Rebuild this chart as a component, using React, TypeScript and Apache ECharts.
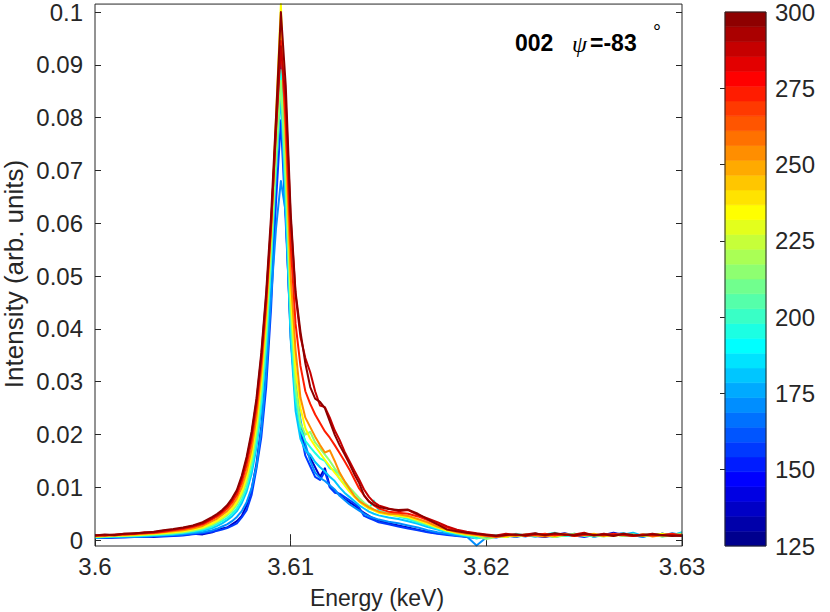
import React, { useEffect, useRef } from "react";
import * as echarts from "echarts";

// Energy grid (keV)
const ENERGY = [
  3.6, 3.6005, 3.601, 3.6015, 3.602, 3.6025, 3.603, 3.6035, 3.604, 3.6045, 3.605, 3.6055,
  3.606, 3.60625, 3.6065, 3.60675, 3.607, 3.60725, 3.6075, 3.60775, 3.608, 3.60825,
  3.6085, 3.60875, 3.609, 3.60925, 3.6095, 3.60975, 3.61, 3.61025, 3.6105, 3.61075,
  3.611, 3.61125, 3.6115, 3.61175, 3.612, 3.61225, 3.6125, 3.61275, 3.613, 3.61325,
  3.6135, 3.61375, 3.614, 3.61425, 3.6145,
  3.615, 3.6155, 3.616, 3.6165, 3.617, 3.6175, 3.618, 3.6185, 3.619, 3.6195,
  3.62, 3.6205, 3.621, 3.6215, 3.622, 3.6225, 3.623, 3.6235, 3.624, 3.6245,
  3.625, 3.6255, 3.626, 3.6265, 3.627, 3.6275, 3.628, 3.6285, 3.629, 3.6295, 3.63,
];

// Temperatures of the curves (colour axis)
const TEMPERATURES = [137, 157, 172, 182, 197, 215, 235, 254, 274, 288, 299];

const S137 = [
  0.0005, 0.0004, 0.0005, 0.0006, 0.0006, 0.0007, 0.0006, 0.0008, 0.0009, 0.001, 0.0012, 0.0011,
  0.0015, 0.0019, 0.0022, 0.0024, 0.003, 0.0036, 0.0046, 0.0066, 0.0095, 0.0145,
  0.0215, 0.032, 0.048, 0.07, 0.0928, 0.062, 0.0385, 0.027, 0.0212, 0.0172,
  0.0156, 0.0138, 0.012, 0.0136, 0.0102, 0.0094, 0.0086, 0.0078, 0.0072, 0.0066,
  0.0058, 0.0052, 0.0046, 0.0041, 0.0037,
  0.0032, 0.0028, 0.0024, 0.002, 0.0016, 0.0013, 0.0011, 0.0009, 0.0007, 0.0005,
  0.0008, 0.0006, 0.001, 0.0007, 0.0011, 0.0008, 0.0006, 0.001, 0.0013, 0.0009,
  0.0011, 0.0007, 0.001, 0.0014, 0.001, 0.0008, 0.0011, 0.0009, 0.0012, 0.001, 0.0008,
];
const S157 = [
  0.0004, 0.0004, 0.0005, 0.0005, 0.0006, 0.0006, 0.0007, 0.0007, 0.0008, 0.0009, 0.0011, 0.0013,
  0.0016, 0.0018, 0.002, 0.0023, 0.0027, 0.0032, 0.0043, 0.0057, 0.0085, 0.0135,
  0.0195, 0.029, 0.044, 0.064, 0.0795, 0.06, 0.04, 0.0275, 0.0205, 0.016,
  0.014, 0.012, 0.0114, 0.013, 0.01, 0.009, 0.0088, 0.0082, 0.0076, 0.007,
  0.0062, 0.0046, 0.0042, 0.0038, 0.0034,
  0.003, 0.0026, 0.0022, 0.0019, 0.0015, 0.0012, 0.001, 0.0008, 0.0006, 0.0004,
  0.0007, 0.0005, 0.0009, 0.0006, 0.001, 0.0007, 0.0011, 0.0008, 0.0012, 0.0009,
  0.0006, 0.001, 0.0008, 0.0011, 0.0013, 0.0009, 0.0007, 0.001, 0.0012, 0.0008, 0.0011,
];
const S172 = [
  0.0004, 0.0005, 0.0006, 0.0006, 0.0007, 0.0007, 0.0008, 0.0009, 0.001, 0.0011, 0.0013, 0.0015,
  0.0019, 0.0022, 0.0026, 0.003, 0.0036, 0.0044, 0.0055, 0.0072, 0.0098, 0.014,
  0.021, 0.0315, 0.046, 0.059, 0.068, 0.062, 0.046, 0.031, 0.0228, 0.0182,
  0.015, 0.0128, 0.0118, 0.0112, 0.0104, 0.0096, 0.0084, 0.0076, 0.0068, 0.0062,
  0.0056, 0.005, 0.0045, 0.0042, 0.0039,
  0.0035, 0.0032, 0.0028, 0.0024, 0.0019, 0.0015, 0.0012, 0.0009, 0.0007, -0.001,
  0.0005, 0.0008, 0.0006, 0.001, 0.0007, 0.0012, 0.0009, 0.0006, 0.001, 0.0008,
  0.0011, 0.0007, 0.0009, 0.0012, 0.0008, 0.001, 0.0006, 0.0011, 0.0009, 0.0013, 0.001,
];
const S182 = [
  0.0005, 0.0006, 0.0006, 0.0007, 0.0007, 0.0008, 0.0009, 0.001, 0.0011, 0.0013, 0.0015, 0.0018,
  0.0023, 0.0027, 0.0032, 0.0038, 0.0045, 0.0055, 0.007, 0.0092, 0.0125, 0.0175,
  0.025, 0.036, 0.0515, 0.07, 0.0845, 0.062, 0.038, 0.0245, 0.0192, 0.017,
  0.0162, 0.0148, 0.0138, 0.013, 0.012, 0.0112, 0.01, 0.009, 0.0082, 0.0074,
  0.0066, 0.006, 0.0054, 0.005, 0.0047,
  0.0043, 0.004, 0.0036, 0.0031, 0.0025, 0.002, 0.0015, 0.0011, 0.0008, 0.0006,
  0.0009, 0.0007, 0.0011, 0.0008, 0.001, 0.0013, 0.0008, 0.0011, 0.0009, 0.0012,
  0.001, 0.0007, 0.0012, 0.0009, 0.0011, 0.0014, 0.0008, 0.001, 0.0012, 0.0009, 0.0015,
];
const S197 = [
  0.0006, 0.0006, 0.0007, 0.0008, 0.0008, 0.0009, 0.001, 0.0011, 0.0012, 0.0014, 0.0017, 0.002,
  0.0026, 0.0031, 0.0036, 0.0042, 0.005, 0.006, 0.0076, 0.01, 0.0135, 0.0186,
  0.0262, 0.0372, 0.053, 0.072, 0.089, 0.066, 0.041, 0.0268, 0.021, 0.0188,
  0.0176, 0.0165, 0.0155, 0.015, 0.0136, 0.0132, 0.0116, 0.0106, 0.0094, 0.0084,
  0.0076, 0.0068, 0.006, 0.0075, 0.0056,
  0.005, 0.0045, 0.004, 0.0034, 0.0028, 0.0022, 0.0016, 0.0012, 0.0009, 0.0003,
  0.0008, 0.001, 0.0006, 0.0012, 0.0009, 0.0007, 0.0011, 0.0014, 0.0008, 0.001,
  0.0012, 0.0007, 0.0011, 0.0009, 0.0013, 0.0008, 0.001, 0.0012, 0.0007, 0.0011, 0.0013,
];
const S215 = [
  0.0006, 0.0007, 0.0008, 0.0008, 0.0009, 0.001, 0.0011, 0.0012, 0.0013, 0.0015, 0.0018, 0.0022,
  0.0029, 0.0034, 0.004, 0.0047, 0.0055, 0.0067, 0.0084, 0.011, 0.0148, 0.0202,
  0.0282, 0.0395, 0.055, 0.072, 0.087, 0.068, 0.044, 0.029, 0.0222, 0.02,
  0.0205, 0.0185, 0.0174, 0.0162, 0.015, 0.0136, 0.0124, 0.0112, 0.01, 0.009,
  0.008, 0.0071, 0.0064, 0.0058, 0.0054,
  0.005, 0.0047, 0.0043, 0.0036, 0.003, 0.0024, 0.0018, 0.0013, 0.001, 0.0008,
  0.0002, 0.0006, 0.0009, 0.0007, 0.0011, 0.0008, 0.001, 0.0006, 0.0009, 0.0012,
  0.0008, 0.001, 0.0007, 0.0011, 0.0009, 0.0008, 0.0011, 0.001, 0.0007, 0.0009, 0.0012,
];
const S235 = [
  0.0007, 0.0008, 0.0009, 0.0009, 0.001, 0.0011, 0.0012, 0.0013, 0.0015, 0.0017, 0.002, 0.0024,
  0.0032, 0.0037, 0.0043, 0.005, 0.0059, 0.0072, 0.0091, 0.012, 0.016, 0.0218,
  0.0302, 0.042, 0.0585, 0.08, 0.1015, 0.075, 0.047, 0.032, 0.025, 0.0212,
  0.0192, 0.0178, 0.0165, 0.0152, 0.014, 0.0128, 0.0117, 0.0104, 0.0092, 0.0082,
  0.0073, 0.0066, 0.006, 0.0056, 0.0052,
  0.0048, 0.0046, 0.0044, 0.0038, 0.0031, 0.0024, 0.0018, 0.0014, 0.0011, 0.0009,
  0.0007, 0.0008, 0.0006, 0.001, 0.0008, 0.0012, 0.0009, 0.0007, 0.0011, 0.0009,
  0.001, 0.0012, 0.0008, 0.001, 0.0009, 0.0011, 0.0008, 0.001, 0.0012, 0.0009, 0.001,
];
const S254 = [
  0.0008, 0.0009, 0.001, 0.001, 0.0011, 0.0012, 0.0013, 0.0015, 0.0017, 0.0019, 0.0022, 0.0027,
  0.0036, 0.0041, 0.0048, 0.0055, 0.0065, 0.0079, 0.01, 0.013, 0.0172, 0.0232,
  0.0318, 0.0435, 0.059, 0.079, 0.097, 0.076, 0.05, 0.036, 0.027, 0.0232,
  0.0214, 0.0196, 0.018, 0.0166, 0.017, 0.015, 0.0128, 0.0112, 0.0098, 0.0084,
  0.0074, 0.0068, 0.0062, 0.0058, 0.0054,
  0.005, 0.0049, 0.0046, 0.004, 0.0034, 0.0026, 0.002, 0.0015, 0.0012, 0.001,
  0.0008, 0.0006, 0.001, 0.0008, 0.0011, 0.0009, 0.0007, 0.001, 0.0012, 0.0008,
  0.0011, 0.0009, 0.001, 0.0008, 0.0012, 0.0009, 0.0011, 0.0007, 0.001, 0.0009, 0.0011,
];
const S274 = [
  0.0008, 0.001, 0.0009, 0.0011, 0.0012, 0.0013, 0.0014, 0.0016, 0.0019, 0.0021, 0.0025, 0.003,
  0.004, 0.0045, 0.0052, 0.006, 0.0071, 0.0086, 0.011, 0.0143, 0.0188, 0.025,
  0.0335, 0.045, 0.0595, 0.078, 0.0945, 0.079, 0.056, 0.041, 0.033, 0.0282,
  0.0258, 0.0238, 0.0222, 0.0206, 0.0194, 0.018, 0.0165, 0.015, 0.0134, 0.0116,
  0.0098, 0.0085, 0.0074, 0.0066, 0.006,
  0.0054, 0.0052, 0.005, 0.0045, 0.0038, 0.003, 0.0024, 0.0018, 0.0014, 0.0011,
  0.0009, 0.0007, 0.0009, 0.0011, 0.0008, 0.001, 0.0012, 0.0009, 0.0011, 0.0008,
  0.001, 0.0011, 0.0009, 0.0012, 0.001, 0.0008, 0.0011, 0.0009, 0.001, 0.0012, 0.0009,
];
const S288 = [
  0.001, 0.0009, 0.0011, 0.0012, 0.0012, 0.0015, 0.0015, 0.0018, 0.002, 0.0023, 0.0027, 0.0032,
  0.0042, 0.0048, 0.0055, 0.0064, 0.0076, 0.0092, 0.0118, 0.0153, 0.02, 0.0262,
  0.0348, 0.0462, 0.06, 0.0775, 0.0935, 0.083, 0.061, 0.0465, 0.0385, 0.0345,
  0.0318, 0.0282, 0.0255, 0.0252, 0.0232, 0.0208, 0.019, 0.0168, 0.015, 0.0132,
  0.0115, 0.0096, 0.0082, 0.0072, 0.0066,
  0.006, 0.0055, 0.0057, 0.0048, 0.0041, 0.0034, 0.0026, 0.002, 0.0016, 0.0013,
  0.0011, 0.0009, 0.0012, 0.001, 0.0011, 0.0013, 0.0009, 0.0012, 0.001, 0.0011,
  0.0014, 0.0009, 0.0012, 0.001, 0.0011, 0.0008, 0.001, 0.0012, 0.0009, 0.001, 0.0008,
];
const S299 = [
  0.0009, 0.0011, 0.001, 0.0012, 0.0013, 0.0014, 0.0016, 0.0019, 0.0021, 0.0024, 0.0028, 0.0034,
  0.0044, 0.005, 0.0057, 0.0066, 0.0079, 0.0095, 0.0122, 0.0158, 0.0205, 0.0268,
  0.0355, 0.047, 0.0615, 0.08, 0.1, 0.086, 0.062, 0.047, 0.0395, 0.0335,
  0.029, 0.0268, 0.0262, 0.025, 0.0225, 0.02, 0.018, 0.0163, 0.0145, 0.0125,
  0.0108, 0.0085, 0.0073, 0.0067, 0.0063,
  0.0059, 0.0057, 0.0058, 0.005, 0.004, 0.003, 0.002, 0.0017, 0.0014, 0.0012,
  0.001, 0.0008, 0.001, 0.0011, 0.0009, 0.0012, 0.001, 0.0013, 0.0011, 0.0009,
  0.0012, 0.001, 0.0011, 0.0008, 0.0012, 0.001, 0.0009, 0.0011, 0.001, 0.0008, 0.0009,
];

const SERIES_VALUES = [S137, S157, S172, S182, S197, S215, S235, S254, S274, S288, S299];

const X_TICKS = [3.6, 3.61, 3.62, 3.63];
const Y_TICKS = [0, 0.01, 0.02, 0.03, 0.04, 0.05, 0.06, 0.07, 0.08, 0.09, 0.1];
const CB_TICKS = [125, 150, 175, 200, 225, 250, 275, 300];
const CB_MIN = 125;
const CB_MAX = 300;
const CB_LEVELS = 36;

const FONT = "'Liberation Sans', Arial, Helvetica, sans-serif";
const INK = "#262626";

// MATLAB-style jet colormap with m levels
function jet(m: number): number[][] {
  const n = Math.ceil(m / 4);
  const u: number[] = [];
  for (let i = 1; i <= n; i++) u.push(i / n);
  for (let i = 1; i <= n - 1; i++) u.push(1);
  for (let i = n; i >= 1; i--) u.push(i / n);
  const off = Math.ceil(n / 2) - (m % 4 === 1 ? 1 : 0);
  const g: number[] = [];
  for (let i = 1; i <= u.length; i++) g.push(off + i);
  const r = g.map((v) => v + n).filter((v) => v <= m);
  const b = g.map((v) => v - n).filter((v) => v >= 1);
  const gg = g.filter((v) => v <= m);
  const J = Array.from({ length: m }, () => [0, 0, 0]);
  r.forEach((row, i) => (J[row - 1][0] = u[i]));
  gg.forEach((row, i) => (J[row - 1][1] = u[i]));
  b.forEach((row, i) => (J[row - 1][2] = u[u.length - b.length + i]));
  return J;
}
const JET = jet(CB_LEVELS);
function levelColor(k: number): string {
  const c = JET[Math.max(0, Math.min(CB_LEVELS - 1, k))];
  return `rgb(${Math.round(c[0] * 255)},${Math.round(c[1] * 255)},${Math.round(c[2] * 255)})`;
}
function tempColor(t: number): string {
  return levelColor(Math.floor(((t - CB_MIN) / (CB_MAX - CB_MIN)) * CB_LEVELS));
}

export default function App() {
  const ref = useRef<HTMLDivElement>(null);
  useEffect(() => {
    document.body.style.margin = "0";
    if (!ref.current) return;
    const chart = echarts.init(ref.current, null, { renderer: "svg" });

    const step = (CB_MAX - CB_MIN) / CB_LEVELS;
    const bands = Array.from({ length: CB_LEVELS }, (_, k) => [0.5, CB_MIN + k * step, CB_MIN + (k + 1) * step, k]);

    const tickStyle = { show: true, inside: true, length: 6, lineStyle: { color: INK, width: 1 } };
    const labelStyle = { color: INK, fontSize: 24, fontFamily: FONT };

    const lineSeries = SERIES_VALUES.map((vals, si) => ({
      type: "line",
      xAxisIndex: 0,
      yAxisIndex: 0,
      name: String(TEMPERATURES[si]),
      data: ENERGY.map((e, i) => [e, vals[i]]),
      showSymbol: false,
      symbol: "none",
      clip: true,
      lineStyle: { width: 2, color: tempColor(TEMPERATURES[si]), join: "round" },
      z: 2 + si * 0.01,
    }));

    chart.setOption({
      animation: false,
      backgroundColor: "#ffffff",
      grid: [
        { left: 95, top: 4, width: 587, height: 542, show: true, z: 10, borderColor: INK, borderWidth: 1, backgroundColor: "transparent" },
        { left: 725, top: 3, width: 41, height: 543, show: true, z: 10, borderColor: INK, borderWidth: 1, backgroundColor: "transparent" },
      ],
      xAxis: [
        {
          type: "value", gridIndex: 0, min: 3.6, max: 3.63, position: "bottom",
          axisLine: { show: false }, splitLine: { show: false },
          axisTick: { ...tickStyle, customValues: X_TICKS },
          axisLabel: { ...labelStyle, margin: 8, customValues: X_TICKS, formatter: (v: number) => String(+v.toFixed(2)) },
        },
        {
          type: "value", gridIndex: 0, min: 3.6, max: 3.63, position: "top",
          axisLine: { show: false }, splitLine: { show: false },
          axisTick: { ...tickStyle, customValues: X_TICKS },
          axisLabel: { show: false },
        },
        {
          type: "value", gridIndex: 1, min: 0, max: 1, show: false,
        },
      ],
      yAxis: [
        {
          type: "value", gridIndex: 0, min: -0.0011, max: 0.1015, position: "left",
          axisLine: { show: false }, splitLine: { show: false },
          axisTick: { ...tickStyle, customValues: Y_TICKS },
          axisLabel: { ...labelStyle, margin: 12, customValues: Y_TICKS, formatter: (v: number) => String(+v.toFixed(2)) },
        },
        {
          type: "value", gridIndex: 0, min: -0.0011, max: 0.1015, position: "right",
          axisLine: { show: false }, splitLine: { show: false },
          axisTick: { ...tickStyle, customValues: Y_TICKS },
          axisLabel: { show: false },
        },
        {
          type: "value", gridIndex: 1, min: CB_MIN, max: CB_MAX, position: "right",
          axisLine: { show: false }, splitLine: { show: false },
          axisTick: { show: true, inside: true, length: 5, lineStyle: { color: INK, width: 1 }, customValues: CB_TICKS.slice(1, -1) },
          axisLabel: { ...labelStyle, margin: 9, verticalAlign: "middle", customValues: CB_TICKS },
        },
      ],
      series: [
        ...lineSeries,
        {
          type: "custom",
          xAxisIndex: 2,
          yAxisIndex: 2,
          data: bands,
          encode: { x: 0, y: [1, 2] },
          renderItem: (_p: any, api: any) => {
            const lo = api.value(1);
            const hi = api.value(2);
            const k = api.value(3);
            const tl = api.coord([0, hi]);
            const br = api.coord([1, lo]);
            const col = levelColor(k);
            return {
              type: "rect",
              shape: { x: tl[0], y: tl[1], width: br[0] - tl[0], height: br[1] - tl[1] },
              style: { fill: col, stroke: col, lineWidth: 0.6 },
            };
          },
        },
      ],
      graphic: [
        {
          type: "text", x: 14, y: 274, rotation: Math.PI / 2,
          style: { text: "Intensity (arb. units)", fill: INK, font: `26px ${FONT}`, align: "center", verticalAlign: "middle" },
        },
        {
          type: "text", x: 377, y: 598,
          style: { text: "Energy (keV)", fill: INK, font: `23px ${FONT}`, align: "center", verticalAlign: "middle" },
        },
        {
          type: "text", x: 515, y: 43,
          style: { text: "002", fill: "#000", font: `bold 23px ${FONT}`, align: "left", verticalAlign: "middle" },
        },
        {
          type: "text", x: 572, y: 44,
          style: { text: "ψ", fill: "#000", font: `italic 24px 'Liberation Serif', 'DejaVu Serif', serif`, align: "left", verticalAlign: "middle" },
        },
        {
          type: "text", x: 590, y: 43,
          style: { text: "=-83", fill: "#000", font: `bold 23px ${FONT}`, align: "left", verticalAlign: "middle" },
        },
        {
          type: "text", x: 657, y: 32,
          style: { text: "°", fill: "#000", font: `20px ${FONT}`, align: "center", verticalAlign: "middle" },
        },
      ],
    });
    return () => chart.dispose();
  }, []);
  return <div ref={ref} style={{ width: 830, height: 612 }} />;
}
